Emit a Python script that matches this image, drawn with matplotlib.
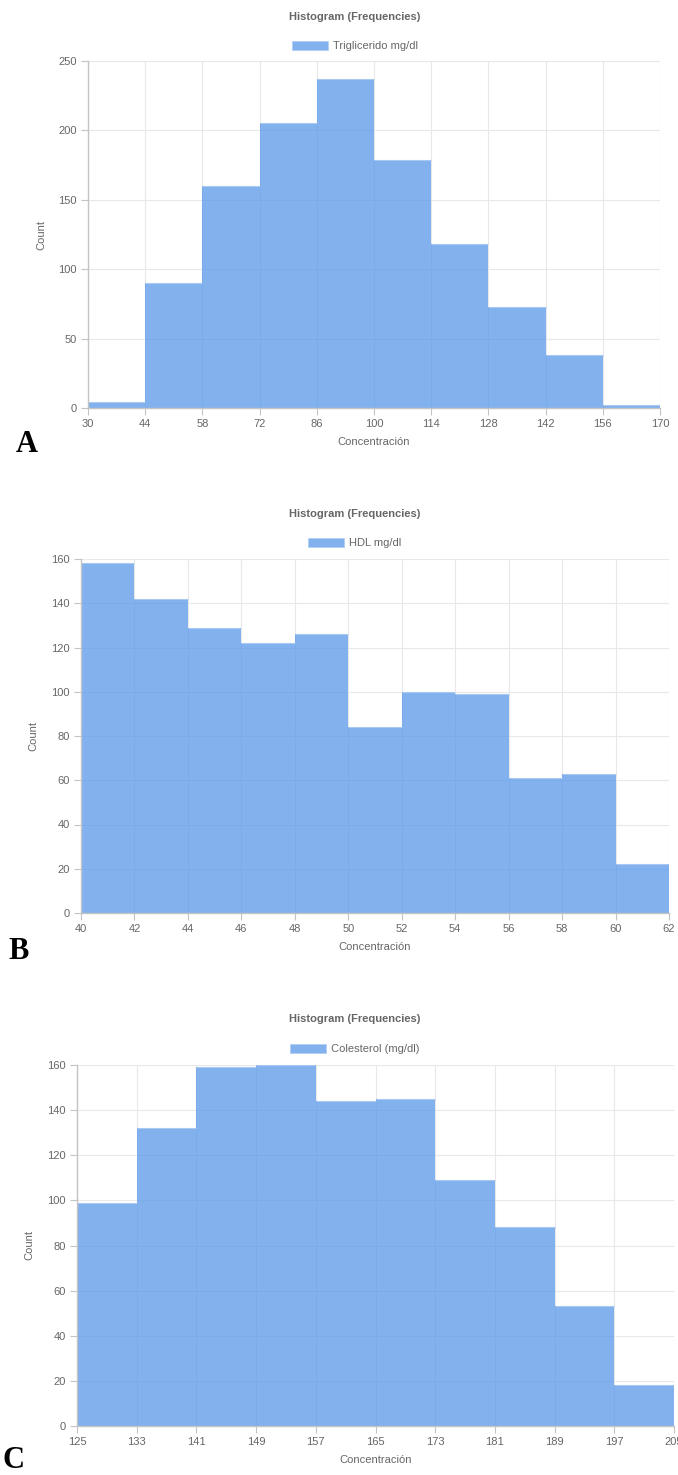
import matplotlib.pyplot as plt
from matplotlib.patches import Patch

# Triglicerido mg/dl
tri_edges = [30, 44, 58, 72, 86, 100, 114, 128, 142, 156, 170]
tri_counts = [4, 90, 160, 205, 237, 179, 118, 73, 38, 2]

# HDL mg/dl
hdl_edges = [40, 42, 44, 46, 48, 50, 52, 54, 56, 58, 60, 62]
hdl_counts = [158, 142, 129, 122, 126, 84, 100, 99, 61, 63, 22]

# Colesterol (mg/dl)
col_edges = [125, 133, 141, 149, 157, 165, 173, 181, 189, 197, 205]
col_counts = [99, 132, 159, 160, 144, 145, 109, 88, 53, 18]

W, H = 678, 1475
TXT = '#666666'
BAR = '#4d91e8'
plt.rcParams['font.family'] = ['Liberation Sans', 'DejaVu Sans']

fig = plt.figure(figsize=(W / 100, H / 100), dpi=100)


def fx(px):
    return px / W


def fy(py):
    return 1 - py / H


def panel(edges, counts, label, ymax, ystep, box, title_y, leg_y, ylab_x,
          letter, letter_xy):
    left, top, right, bottom = box
    ax = fig.add_axes([fx(left), fy(bottom), fx(right - left), (bottom - top) / H])
    # one filled step polygon, so no seams between neighbouring bins
    ax.stairs(counts, edges, fill=True, color=BAR, alpha=0.7, linewidth=0, zorder=2)
    # thin lighter line along the top of each bin
    ax.hlines(counts, edges[:-1], edges[1:], color='#a9c9f3', linewidth=0.8, zorder=2.5)
    ax.set_xlim(edges[0], edges[-1])
    ax.set_ylim(0, ymax)
    ax.set_xticks(edges)
    ax.set_yticks(range(0, ymax + 1, ystep))
    ax.grid(True, color='#e8e8e8', linewidth=0.8, zorder=0)
    ax.set_axisbelow(True)
    for s in ['top', 'right']:
        ax.spines[s].set_visible(False)
    for s in ['left', 'bottom']:
        ax.spines[s].set_color('#c4c4c4')
        ax.spines[s].set_linewidth(1.0)
        ax.spines[s].set_zorder(3)
    ax.tick_params(colors='#c4c4c4', labelcolor=TXT, labelsize=8,
                   length=5, width=0.8, pad=3)
    ax.set_xlabel('Concentración', color=TXT, fontsize=8, labelpad=6)
    ax.set_ylabel('Count', color=TXT, fontsize=8)
    ax.yaxis.set_label_coords((ylab_x - left) / (right - left), 0.5)
    for t in ax.get_xticklabels():
        t.set_clip_on(False)

    fig.text(fx(355), fy(title_y), 'Histogram (Frequencies)', ha='center',
             va='center', fontsize=8, fontweight='bold', color=TXT)
    handle = Patch(facecolor=BAR, alpha=0.7, edgecolor='#a9c9f3', linewidth=0.6)
    fig.legend([handle], [label], loc='center', bbox_to_anchor=(fx(355), fy(leg_y)),
               frameon=False, fontsize=8, labelcolor=TXT, handlelength=3.2,
               handleheight=0.9, handletextpad=0.5, borderpad=0)
    fig.text(fx(letter_xy[0]), fy(letter_xy[1]), letter, ha='left', va='center',
             fontsize=22, fontweight='bold', family='Liberation Serif', color='black')
    return ax


panel(tri_edges, tri_counts, 'Triglicerido mg/dl', 250, 50,
      (88, 61, 660, 408), 17, 46, 46, 'A', (16, 445))
panel(hdl_edges, hdl_counts, 'HDL mg/dl', 160, 20,
      (81, 559, 669, 913), 514, 543, 38, 'B', (8, 951))
panel(col_edges, col_counts, 'Colesterol (mg/dl)', 160, 20,
      (77, 1065, 674, 1426), 1019, 1049, 34, 'C', (2, 1461))

fig.savefig('out.png', dpi=100, facecolor='white')
